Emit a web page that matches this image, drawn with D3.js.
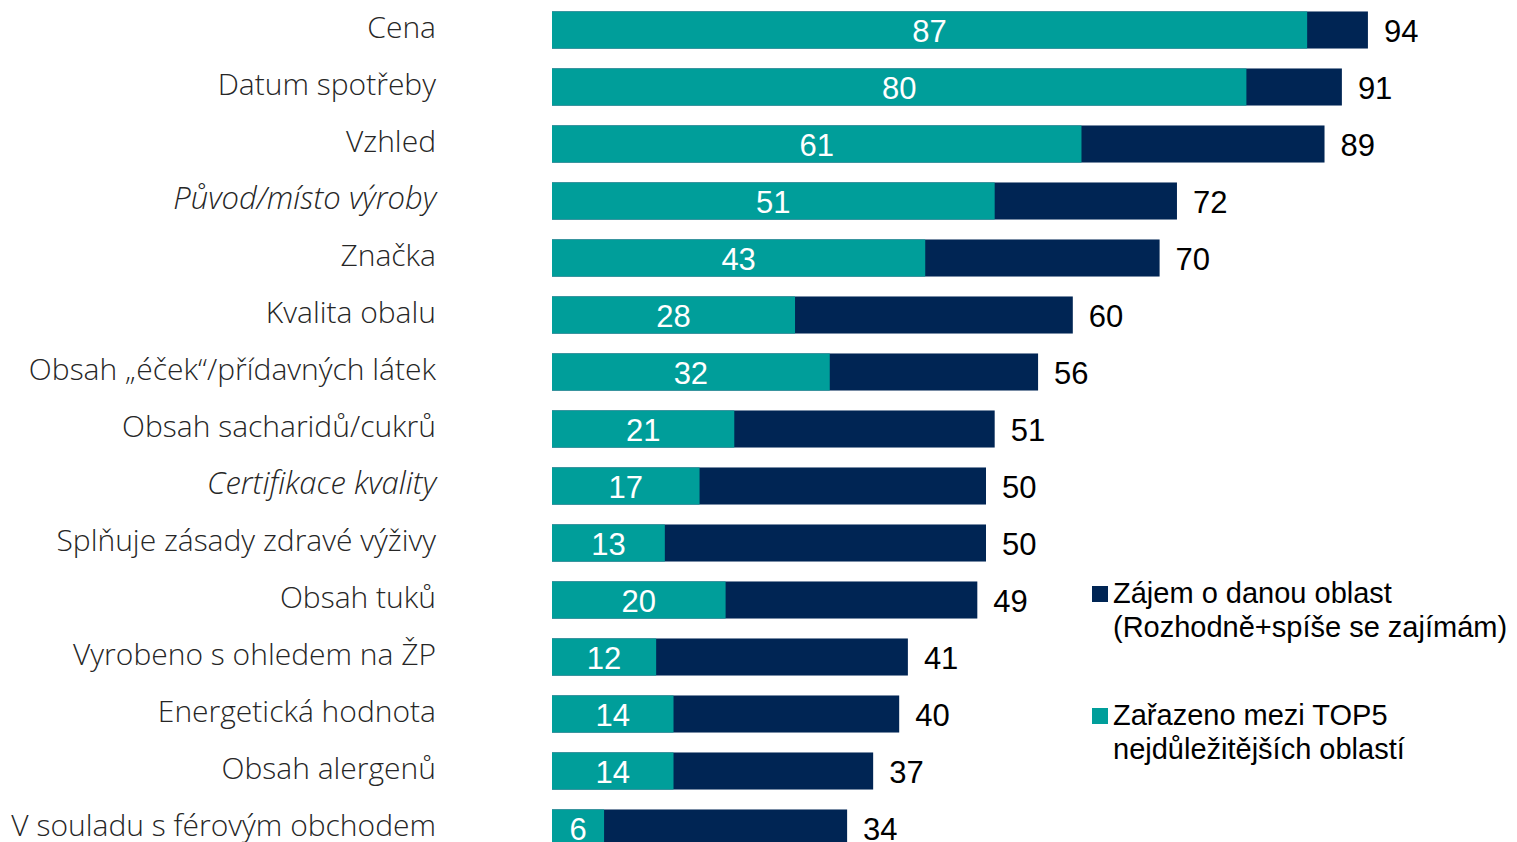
<!DOCTYPE html>
<html>
<head>
<meta charset="utf-8">
<script src="https://cdn.jsdelivr.net/npm/d3@7"></script>
<style>
  body { margin: 0; background: #fff; }
  .cat { font-family: "Open Sans", sans-serif; font-weight: 300; font-size: 30px; fill: #262626; }
  .val { font-family: "Liberation Sans", Arial, sans-serif; font-size: 31px; }
  .leg { font-family: "Liberation Sans", Arial, sans-serif; font-size: 29px; fill: #000; }
</style>
</head>
<body>
<svg width="1517" height="842"></svg>
<script>
// data
var categories = ["Cena", "Datum spotřeby", "Vzhled", "Původ/místo výroby", "Značka", "Kvalita obalu",
  "Obsah „éček“/přídavných látek", "Obsah sacharidů/cukrů", "Certifikace kvality",
  "Splňuje zásady zdravé výživy", "Obsah tuků", "Vyrobeno s ohledem na ŽP",
  "Energetická hodnota", "Obsah alergenů", "V souladu s férovým obchodem"];
var italicCats = ["Původ/místo výroby", "Certifikace kvality"];
var interest = [94, 91, 89, 72, 70, 60, 56, 51, 50, 50, 49, 41, 40, 37, 34];
var top5 = [87, 80, 61, 51, 43, 28, 32, 21, 17, 13, 20, 12, 14, 14, 6];
var legendLabels = [
  ["Zájem o danou oblast", "(Rozhodně+spíše se zajímám)"],
  ["Zařazeno mezi TOP5", "nejdůležitějších oblastí"]
];

var navy = "#002554", teal = "#009E9A";

var svg = d3.select("svg");
var rows = categories.map(function(c, i) { return {cat: c, interest: interest[i], top5: top5[i]}; });

var x = d3.scaleLinear().domain([0, 100]).range([552, 1420]);
var y = d3.scaleBand().domain(categories).range([1.5, 856.5]).paddingInner(0.35).paddingOuter(0.175);

var g = svg.append("g");

// navy (interest) bars behind
g.selectAll(".bar-int").data(rows).enter().append("rect")
  .attr("x", x(0))
  .attr("y", function(d) { return y(d.cat); })
  .attr("width", function(d) { return x(d.interest) - x(0); })
  .attr("height", y.bandwidth())
  .attr("fill", navy);

// teal (top5) bars on top
g.selectAll(".bar-top").data(rows).enter().append("rect")
  .attr("x", x(0))
  .attr("y", function(d) { return y(d.cat); })
  .attr("width", function(d) { return x(d.top5) - x(0); })
  .attr("height", y.bandwidth())
  .attr("fill", teal);

// white labels inside teal
g.selectAll(".lab-top").data(rows).enter().append("text")
  .attr("class", "val")
  .attr("x", function(d) { return (x(0) + x(d.top5)) / 2; })
  .attr("y", function(d) { return y(d.cat) + y.bandwidth() / 2; })
  .attr("dy", "0.38em")
  .attr("text-anchor", "middle")
  .attr("fill", "#fff")
  .text(function(d) { return d.top5; });

// outer labels
g.selectAll(".lab-int").data(rows).enter().append("text")
  .attr("class", "val")
  .attr("x", function(d) { return x(d.interest) + 16; })
  .attr("y", function(d) { return y(d.cat) + y.bandwidth() / 2; })
  .attr("dy", "0.38em")
  .attr("fill", "#000")
  .text(function(d) { return d.interest; });

// category labels
g.selectAll(".cat").data(rows).enter().append("text")
  .attr("class", "cat")
  .attr("x", 436)
  .attr("y", function(d) { return y(d.cat) + y.bandwidth() / 2; })
  .attr("dy", "0.25em")
  .attr("text-anchor", "end")
  .style("font-style", function(d) { return italicCats.indexOf(d.cat) >= 0 ? "italic" : "normal"; })
  .style("font-size", function(d) { return italicCats.indexOf(d.cat) >= 0 ? "31px" : null; })
  .text(function(d) { return d.cat; });

// legend
var legY = [603, 725];
var legColors = [navy, teal];
legendLabels.forEach(function(lines, i) {
  svg.append("rect")
    .attr("x", 1092).attr("y", legY[i] - 17)
    .attr("width", 16).attr("height", 16)
    .attr("fill", legColors[i]);
  var t = svg.append("text").attr("class", "leg").attr("x", 1113).attr("y", legY[i]);
  lines.forEach(function(l, j) {
    t.append("tspan").attr("x", 1113).attr("dy", j === 0 ? 0 : 34).text(l);
  });
});
</script>
</body>
</html>
